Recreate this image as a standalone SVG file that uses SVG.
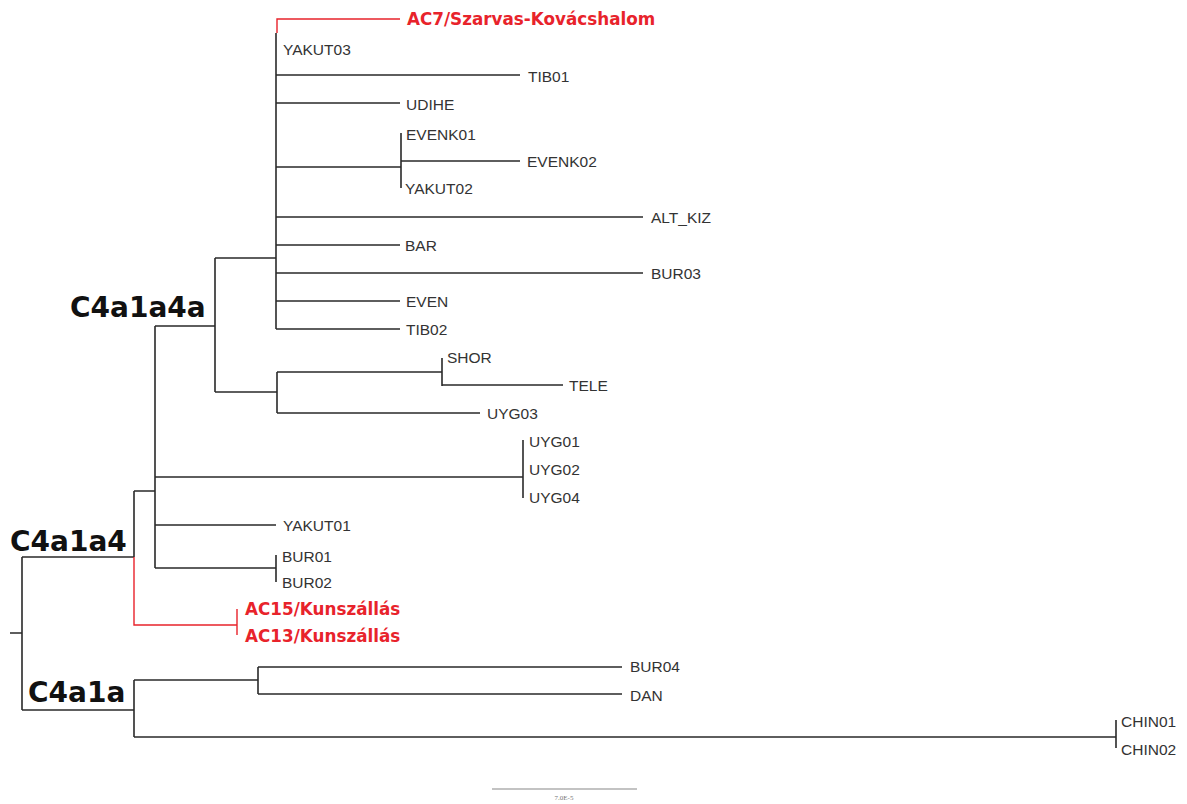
<svg xmlns="http://www.w3.org/2000/svg" width="1187" height="804" viewBox="0 0 1187 804">
<style>
.e{fill:none;stroke:#2a2a2a;stroke-width:1.6}
.r{fill:none;stroke:#e8232b;stroke-width:1.4}
.l{font-family:"Liberation Sans",Arial,sans-serif;font-size:15.5px;fill:#333}
.rl{font-family:"DejaVu Sans",sans-serif;font-weight:bold;font-size:16.8px;fill:#e8232b}
.c{font-family:"DejaVu Sans",sans-serif;font-weight:bold;font-size:28px;fill:#111}
.s{font-family:"Liberation Serif",serif;font-size:7px;fill:#777}
</style>
<rect width="1187" height="804" fill="#fff"/>
<g id="connectors">
<path class="e" d="M10 633H22M22 557V710M22 557H134M22 710H134"/>
<path class="e" d="M134 491V557M134 491H155"/>
<path class="r" d="M134 557V625H237M237 609V635"/>
<path class="e" d="M155 326V568M155 326H215M155 477H523M155 525H276M155 568H276M276 555V582"/>
<path class="e" d="M523 440V498"/>
<path class="e" d="M215 258V392M215 258H276M215 392H277"/>
<path class="r" d="M277 33V19H400"/>
<path class="e" d="M276 33V329"/>
<path class="e" d="M276 75H520M276 103H400M276 167H401M401 133V188M401 161H520M276 217H643M276 245H400M276 273H643M276 301H400M276 329H400"/>
<path class="e" d="M277 372V413M277 372H442M442 358V386M442 385H563M277 413H480"/>
<path class="e" d="M134 680V737M134 680H258M258 667V694M258 667H622M258 694H622M134 737H1116M1116 720V748"/>
<path d="M492 789H637" stroke="#888" stroke-width="1.2"/>
</g>
<g id="n-C4a1a4a"><text class="c" x="70" y="317">C4a1a4a</text></g>
<g id="n-C4a1a4"><text class="c" x="10" y="551">C4a1a4</text></g>
<g id="n-C4a1a"><text class="c" x="28" y="702">C4a1a</text></g>
<g id="n-AC7"><text class="rl" x="407" y="25">AC7/Szarvas-Kovácshalom</text></g>
<g id="n-YAKUT03"><text class="l" x="283" y="55">YAKUT03</text></g>
<g id="n-TIB01"><text class="l" x="528" y="82">TIB01</text></g>
<g id="n-UDIHE"><text class="l" x="406" y="110">UDIHE</text></g>
<g id="n-EVENK01"><text class="l" x="406" y="140">EVENK01</text></g>
<g id="n-EVENK02"><text class="l" x="527" y="167">EVENK02</text></g>
<g id="n-YAKUT02"><text class="l" x="405" y="194">YAKUT02</text></g>
<g id="n-ALT_KIZ"><text class="l" x="651" y="223">ALT_KIZ</text></g>
<g id="n-BAR"><text class="l" x="405" y="251">BAR</text></g>
<g id="n-BUR03"><text class="l" x="651" y="279">BUR03</text></g>
<g id="n-EVEN"><text class="l" x="406" y="307">EVEN</text></g>
<g id="n-TIB02"><text class="l" x="406" y="335">TIB02</text></g>
<g id="n-SHOR"><text class="l" x="447" y="363">SHOR</text></g>
<g id="n-TELE"><text class="l" x="569" y="391">TELE</text></g>
<g id="n-UYG03"><text class="l" x="487" y="419">UYG03</text></g>
<g id="n-UYG01"><text class="l" x="529" y="447">UYG01</text></g>
<g id="n-UYG02"><text class="l" x="529" y="475">UYG02</text></g>
<g id="n-UYG04"><text class="l" x="529" y="503">UYG04</text></g>
<g id="n-YAKUT01"><text class="l" x="283" y="531">YAKUT01</text></g>
<g id="n-BUR01"><text class="l" x="282" y="562">BUR01</text></g>
<g id="n-BUR02"><text class="l" x="282" y="588">BUR02</text></g>
<g id="n-AC15"><text class="rl" x="245" y="615">AC15/Kunszállás</text></g>
<g id="n-AC13"><text class="rl" x="245" y="642">AC13/Kunszállás</text></g>
<g id="n-BUR04"><text class="l" x="630" y="672">BUR04</text></g>
<g id="n-DAN"><text class="l" x="630" y="701">DAN</text></g>
<g id="n-CHIN01"><text class="l" x="1121" y="727">CHIN01</text></g>
<g id="n-CHIN02"><text class="l" x="1121" y="755">CHIN02</text></g>
<g id="scale"><text class="s" x="564" y="800" text-anchor="middle">7.0E-5</text></g>
</svg>
